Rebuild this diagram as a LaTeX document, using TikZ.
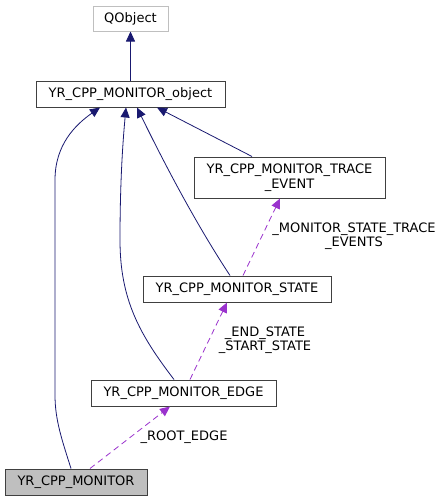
\documentclass[tikz,border=0pt]{standalone}
\usepackage{fontspec}
\setmainfont{DejaVu Sans}
\usetikzlibrary{arrows.meta}
\definecolor{edgeblue}{HTML}{191970}
\definecolor{dashpurple}{HTML}{9A32CD}
\definecolor{boxborder}{HTML}{404040}
\definecolor{lightborder}{HTML}{BFBFBF}
\definecolor{grayfill}{HTML}{BFBFBF}
\begin{document}
\begin{tikzpicture}[x={(1pt,0)}, y={(0,-1pt)},
  every node/.style={font=\fontsize{13}{14.5}\selectfont, inner sep=0pt},
  box/.style={draw=boxborder, line width=1pt, fill=white, align=center},
  inherit/.style={draw=edgeblue, line width=0.8pt, -{Triangle[length=10pt, width=9pt]}},
  usage/.style={draw=dashpurple, line width=0.8pt, dash pattern=on 6pt off 4pt, -{Triangle[length=10pt, width=9pt]}},
  lbl/.style={align=center, text=black}]
\useasboundingbox (0,0) rectangle (444,501);
\node[box, draw=lightborder, minimum width=75pt, minimum height=25pt] (qobj) at (130.5,18.5) {QObject};
\node[box, minimum width=189pt, minimum height=26pt] (obj) at (130.5,94) {YR\_CPP\_MONITOR\_object};
\node[box, minimum width=191pt, minimum height=41pt] (trace) at (289.5,177.5) {YR\_CPP\_MONITOR\_TRACE\\\_EVENT};
\node[box, minimum width=188pt, minimum height=26pt] (state) at (237,289) {YR\_CPP\_MONITOR\_STATE};
\node[box, minimum width=185pt, minimum height=26pt] (edge) at (183.5,393) {YR\_CPP\_MONITOR\_EDGE};
\node[box, fill=grayfill, minimum width=142pt, minimum height=26pt] (mon) at (76,482) {YR\_CPP\_MONITOR};

\draw[inherit] (obj.north) -- (qobj.south);
\draw[inherit] ([xshift=-5pt]mon.north) .. controls (62,440) and (55,420) .. (55,395) -- (55,180) .. controls (55,145) and (75,125) .. ([xshift=-30.5pt]obj.south);
\draw[inherit] ([xshift=-9.5pt]edge.north) .. controls (140,335) and (120,300) .. (120,240) .. controls (120,180) and (123,140) .. ([xshift=-4.5pt]obj.south);
\draw[inherit] ([xshift=-7pt]state.north) .. controls (200,230) and (170,175) .. ([xshift=6.5pt]obj.south);
\draw[inherit] ([xshift=-37.5pt]trace.north) -- ([xshift=26.5pt]obj.south);

\draw[usage] ([xshift=6pt]state.north) -- ([xshift=-9.5pt]trace.south);
\draw[usage] ([xshift=6.5pt]edge.north) -- ([xshift=-10pt]state.south);
\draw[usage] ([xshift=14pt]mon.north) -- ([xshift=-13.5pt]edge.south);

\node[lbl] (l1) at (354,236) {\_MONITOR\_STATE\_TRACE\\\_EVENTS};
\node[lbl] (l2) at (265,340) {\_END\_STATE\\\_START\_STATE};
\node[lbl] (l3) at (184,437) {\_ROOT\_EDGE};
\end{tikzpicture}
\end{document}
